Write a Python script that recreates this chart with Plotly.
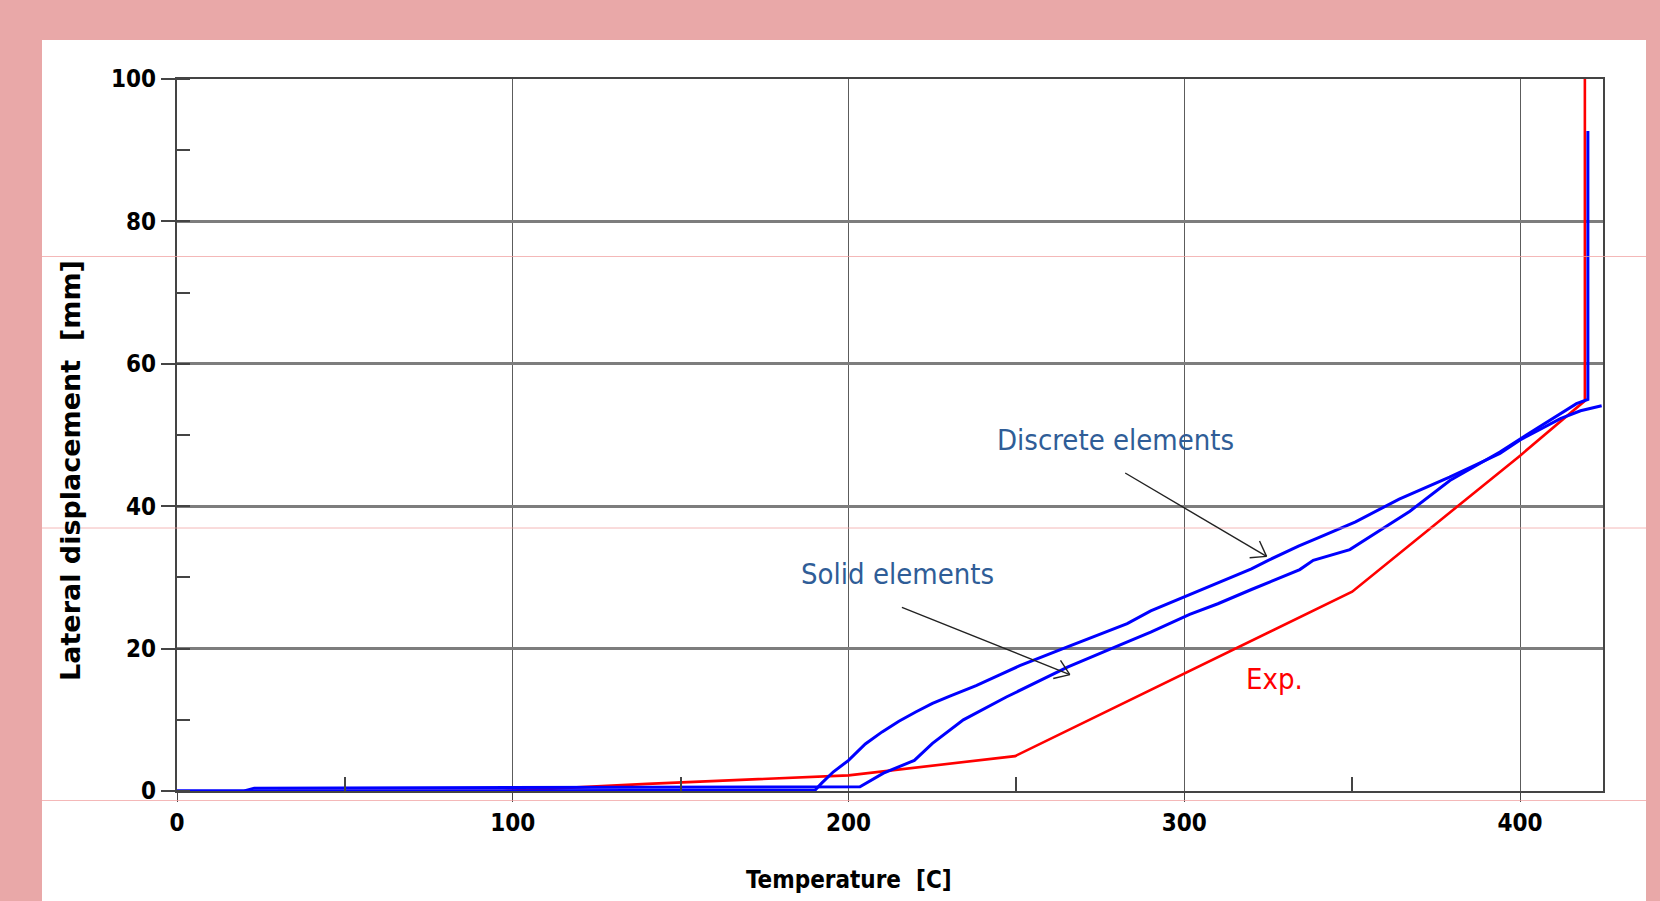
import math
import plotly.graph_objects as go

# ---------------- data ----------------
exp_temp = [30, 97, 110, 140, 200, 249.6, 350, 381, 400, 419.3, 419.3]
exp_disp = [0, 0, 0.3, 1.0, 2.2, 4.9, 28.0, 39.9, 47.1, 54.8, 100]

discrete_temp = [0, 100, 190, 192, 195.5, 200, 205, 210, 215, 220, 225, 230, 238, 245, 251,
                 265, 283, 290, 300, 310, 320, 325, 334, 340, 347, 351, 364, 379, 394, 400,
                 412, 418, 424.3]
discrete_disp = [0, 0.1, 0.1, 1.1, 2.7, 4.3, 6.6, 8.3, 9.8, 11.1, 12.3, 13.3, 14.8, 16.3, 17.6,
                 20.2, 23.5, 25.3, 27.3, 29.3, 31.2, 32.4, 34.4, 35.6, 37.0, 37.8, 41.0, 44.1,
                 47.4, 49.3, 52.3, 53.4, 54.1]

solid_temp = [0, 20, 23, 120, 140, 203.4, 210.4, 215.3, 219.6, 225, 234.2, 247, 265.2, 283.4,
              290, 301.6, 310, 320, 330, 334.4, 338.4, 349.3, 358.2, 367.2, 379.1, 394, 403.9,
              416.8, 420.2, 420.2]
solid_disp = [0, 0, 0.4, 0.5, 0.6, 0.6, 2.5, 3.4, 4.3, 6.7, 10.0, 13.2, 17.4, 21.0,
              22.3, 24.8, 26.3, 28.3, 30.3, 31.1, 32.4, 33.9, 36.6, 39.3, 43.6, 47.6, 50.6,
              54.4, 55.0, 92.7]

x_ticks = [0, 100, 200, 300, 400]
x_minor = [50, 150, 250, 350]
y_ticks = [0, 20, 40, 60, 80, 100]

labels = ["Discrete elements", "Solid elements", "Exp."]
label_pos = [(279.5, 49.3), (214.5, 30.5), (327.0, 15.7)]
arrow_tails = [(282.4, 44.66), (215.9, 25.8)]
arrow_heads = [(324.5, 32.95), (265.9, 16.35)]

# ---------------- layout geometry ----------------
W, H = 1660, 901
ML, MR, MT, MB = 177, 57, 79, 110
PW, PH = W - ML - MR, H - MT - MB
X_MAX = 424.7
sx = PW / X_MAX
sy = PH / 100.0

def px_to_paper_x(px):
    return (px - ML) / PW

def py_to_paper_y(py):
    return (H - MB - py) / PH

NARROW = "Liberation Sans Narrow, Arial Narrow, DejaVu Sans Condensed, sans-serif"

fig = go.Figure()
fig.add_trace(go.Scatter(x=exp_temp, y=exp_disp, mode="lines",
                         line=dict(color="#ff0000", width=2.6), name="Exp."))
fig.add_trace(go.Scatter(x=solid_temp, y=solid_disp, mode="lines",
                         line=dict(color="#0000ff", width=3), name="Solid elements"))
fig.add_trace(go.Scatter(x=discrete_temp, y=discrete_disp, mode="lines",
                         line=dict(color="#0000ff", width=3), name="Discrete elements"))

shapes = []
# white panel
shapes.append(dict(type="rect", xref="paper", yref="paper",
                   x0=px_to_paper_x(42), x1=px_to_paper_x(1646),
                   y0=py_to_paper_y(910), y1=py_to_paper_y(40),
                   fillcolor="white", line=dict(width=0), layer="below"))
# faint pink artefact lines across the slide
for py in [256.5, 528, 800.5]:
    shapes.append(dict(type="line", xref="paper", yref="paper",
                       x0=px_to_paper_x(42), x1=px_to_paper_x(1646),
                       y0=py_to_paper_y(py), y1=py_to_paper_y(py),
                       line=dict(color="rgba(240,160,160,0.75)", width=1), layer="above"))

# arrows (line + open V head)
for (tx, ty), (hx, hy) in zip(arrow_tails, arrow_heads):
    shapes.append(dict(type="line", xref="x", yref="y", x0=tx, y0=ty, x1=hx, y1=hy,
                       line=dict(color="#222222", width=1.4), layer="above"))
    dx, dy = (tx - hx) * sx, (ty - hy) * sy
    n = math.hypot(dx, dy)
    ux, uy = dx / n, dy / n
    for ang in (35, -35):
        a = math.radians(ang)
        rx = ux * math.cos(a) - uy * math.sin(a)
        ry = ux * math.sin(a) + uy * math.cos(a)
        L = 17
        shapes.append(dict(type="line", xref="x", yref="y", x0=hx, y0=hy,
                           x1=hx + rx * L / sx, y1=hy + ry * L / sy,
                           line=dict(color="#222222", width=1.4), layer="above"))

annotations = []
colors = ["#2F5D97", "#2F5D97", "#ff0000"]
for text, (lx, ly), c in zip(labels, label_pos, colors):
    annotations.append(dict(x=lx, y=ly, xref="x", yref="y", text=text, showarrow=False,
                            font=dict(family=NARROW, size=29, color=c),
                            xanchor="center", yanchor="middle"))
# axis titles
annotations.append(dict(x=px_to_paper_x(849), y=py_to_paper_y(880), xref="paper", yref="paper",
                        text="Temperature  [C]", showarrow=False,
                        font=dict(family=NARROW, size=24, color="black", weight="bold"),
                        xanchor="center", yanchor="middle"))
annotations.append(dict(x=px_to_paper_x(70), y=py_to_paper_y(471), xref="paper", yref="paper",
                        text="Lateral displacement  [mm]", showarrow=False, textangle=-90,
                        font=dict(family="DejaVu Sans, sans-serif", size=27, color="black",
                                  weight="bold"),
                        xanchor="center", yanchor="middle"))

fig.update_layout(
    width=W, height=H, autosize=False,
    margin=dict(l=ML, r=MR, t=MT, b=MB, pad=0),
    paper_bgcolor="#E9A8A8", plot_bgcolor="white",
    showlegend=False,
    shapes=shapes, annotations=annotations,
    xaxis=dict(range=[0, X_MAX], tickvals=x_ticks, ticktext=[str(v) for v in x_ticks],
               showgrid=True, gridcolor="#5c5c5c", gridwidth=1.3,
               ticks="outside", ticklen=9, tickwidth=1.3, tickcolor="#444",
               showline=True, linecolor="#444", linewidth=2.2, mirror=True,
               zeroline=False,
               tickfont=dict(family=NARROW, size=24, color="black", weight="bold"),
               minor=dict(tickvals=x_minor, ticks="inside", ticklen=14, tickwidth=1.5,
                          tickcolor="#444", showgrid=False)),
    yaxis=dict(range=[0, 100], tickvals=y_ticks, ticktext=[str(v) for v in y_ticks],
               showgrid=True, gridcolor="#7d7d7d", gridwidth=2.6,
               ticks="outside", ticklen=14, tickwidth=1.5, tickcolor="#444",
               showline=True, linecolor="#444", linewidth=2.2, mirror=True,
               zeroline=False,
               tickfont=dict(family=NARROW, size=24, color="black", weight="bold"),
               minor=dict(dtick=10, tick0=0, ticks="inside", ticklen=13, tickwidth=1.5,
                          tickcolor="#444", showgrid=False)),
)

fig.write_html("out.html")
